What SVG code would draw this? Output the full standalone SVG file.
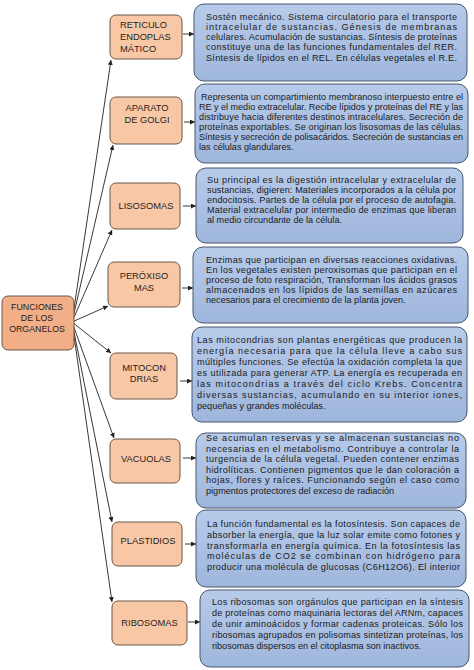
<svg xmlns="http://www.w3.org/2000/svg" width="474" height="670" viewBox="0 0 474 670">
<style>
.org rect{fill:#f8c8a6;stroke:#6b5646;stroke-width:1}
.ctr rect{fill:#f2ae86;stroke:#6b5646;stroke-width:1}
.org text,.ctr text{font-family:"Liberation Sans",Arial,sans-serif;font-size:9.3px;fill:#1e1e1e;text-anchor:middle}
.ctr text{font-size:8.8px}
.blu rect{fill:url(#bg);stroke:#46566f;stroke-width:1}
.blu text{font-family:"Liberation Sans",Arial,sans-serif;font-size:9.1px;fill:#1a1a1a}
#connectors line{stroke:#222;stroke-width:0.9;marker-end:url(#ah)}
</style>
<defs>
<linearGradient id="bg" x1="0" y1="0" x2="0" y2="1">
<stop offset="0" stop-color="#b7cbea"/>
<stop offset="1" stop-color="#9fb6dc"/>
</linearGradient>
<marker id="ah" viewBox="0 0 10 10" refX="10" refY="5" markerWidth="5" markerHeight="5" markerUnits="userSpaceOnUse" orient="auto">
<path d="M0,0 L10,5 L0,10 z" fill="#222"/>
</marker>
</defs>
<rect width="474" height="670" fill="#ffffff"/>

<g id="connectors">
<line x1="72" y1="322" x2="111" y2="60"/>
<line x1="72" y1="322" x2="113" y2="145"/>
<line x1="72" y1="322" x2="112" y2="230"/>
<line x1="72" y1="322" x2="108" y2="306"/>
<line x1="72" y1="322" x2="111" y2="353"/>
<line x1="72" y1="322" x2="114" y2="438"/>
<line x1="72" y1="322" x2="112" y2="522"/>
<line x1="72" y1="322" x2="112" y2="602"/>
<line x1="183" y1="34" x2="194" y2="34"/>
<line x1="184" y1="122" x2="195" y2="122"/>
<line x1="183" y1="206" x2="196" y2="206"/>
<line x1="182" y1="288" x2="193" y2="288"/>
<line x1="180" y1="381" x2="192" y2="381"/>
<line x1="183" y1="458" x2="196" y2="458"/>
<line x1="185" y1="544" x2="196" y2="544"/>
<line x1="188" y1="622" x2="200" y2="622"/>
</g>

<g id="funciones" class="ctr">
<rect x="2" y="296" width="72" height="54" rx="6"/>
<text x="37" y="309.5">FUNCIONES</text>
<text x="37" y="320.5">DE LOS</text>
<text x="37" y="331.5">ORGANELOS</text>
</g>

<g id="reticulo" class="org">
<rect x="110" y="15" width="72" height="44" rx="6"/>
<text x="120" y="28" style="text-anchor:start">RETICULO</text>
<text x="120" y="40" style="text-anchor:start">ENDOPLAS</text>
<text x="120" y="51.5" style="text-anchor:start">MÁTICO</text>
</g>
<g id="golgi" class="org">
<rect x="110" y="97" width="72" height="47" rx="6"/>
<text x="147" y="111">APARATO</text>
<text x="147" y="122.5">DE GOLGI</text>
</g>
<g id="lisosomas" class="org">
<rect x="110" y="183" width="70" height="46" rx="6"/>
<text x="146" y="209">LISOSOMAS</text>
</g>
<g id="peroxisomas" class="org">
<rect x="108" y="262" width="72" height="45" rx="6"/>
<text x="144" y="278.5">PERÓXISO</text>
<text x="144" y="290.5">MAS</text>
</g>
<g id="mitocondrias" class="org">
<rect x="110" y="353" width="67" height="46" rx="6"/>
<text x="144" y="370.5">MITOCON</text>
<text x="144" y="381.5">DRIAS</text>
</g>
<g id="vacuolas" class="org">
<rect x="110" y="439" width="70" height="44" rx="6"/>
<text x="146" y="461.5">VACUOLAS</text>
</g>
<g id="plastidios" class="org">
<rect x="112" y="522" width="70" height="44" rx="6"/>
<text x="148" y="543.5">PLASTIDIOS</text>
</g>
<g id="ribosomas" class="org">
<rect x="112" y="601" width="75" height="44" rx="6"/>
<text x="149.5" y="625.5">RIBOSOMAS</text>
</g>

<g id="d-reticulo" class="blu">
<rect x="194" y="4" width="273" height="77" rx="10"/>
<text x="206" y="19.8" textLength="251" lengthAdjust="spacing">Sostén mecánico. Sistema circulatorio para el transporte</text>
<text x="206" y="30" textLength="251" lengthAdjust="spacing">intracelular de sustancias. Génesis de membranas</text>
<text x="206" y="40.2" textLength="251" lengthAdjust="spacing">celulares. Acumulación de sustancias. Síntesis de proteínas</text>
<text x="206" y="50.4" textLength="251" lengthAdjust="spacing">constituye una de las funciones fundamentales del RER.</text>
<text x="206" y="60.6" textLength="251" lengthAdjust="spacing">Síntesis de lípidos en el REL. En células vegetales el R.E.</text>
</g>
<g id="d-golgi" class="blu">
<rect x="195" y="84" width="273" height="79" rx="10"/>
<text x="201" y="99.8" textLength="262" lengthAdjust="spacing">Representa un compartimiento membranoso interpuesto entre el</text>
<text x="199" y="109.9" textLength="264" lengthAdjust="spacing">RE y el medio extracelular. Recibe lípidos y proteínas del RE y las</text>
<text x="199" y="120" textLength="264" lengthAdjust="spacing">distribuye hacia diferentes destinos intracelulares. Secreción de</text>
<text x="199" y="130.1" textLength="264" lengthAdjust="spacing">proteínas exportables. Se originan los lisosomas de las células.</text>
<text x="199" y="140.2" textLength="264" lengthAdjust="spacing">Síntesis y secreción de polisacáridos. Secreción de sustancias en</text>
<text x="199" y="150.3">las células glandulares.</text>
</g>
<g id="d-lisosomas" class="blu">
<rect x="196" y="168" width="267" height="75" rx="10"/>
<text x="207" y="183" textLength="249" lengthAdjust="spacing">Su principal es la digestión intracelular y extracelular de</text>
<text x="207" y="193" textLength="249" lengthAdjust="spacing">sustancias, digieren: Materiales incorporados a la célula por</text>
<text x="207" y="203" textLength="249" lengthAdjust="spacing">endocitosis. Partes de la célula por el proceso de autofagia.</text>
<text x="207" y="213" textLength="249" lengthAdjust="spacing">Material extracelular por intermedio de enzimas que liberan</text>
<text x="207" y="223">al medio circundante de la célula.</text>
</g>
<g id="d-peroxisomas" class="blu">
<rect x="193" y="247" width="275" height="76" rx="10"/>
<text x="206" y="263" textLength="251" lengthAdjust="spacing">Enzimas que participan en diversas reacciones oxidativas.</text>
<text x="206" y="273" textLength="251" lengthAdjust="spacing">En los vegetales existen peroxisomas que participan en el</text>
<text x="206" y="283" textLength="251" lengthAdjust="spacing">proceso de foto respiración, Transforman los ácidos grasos</text>
<text x="206" y="293" textLength="251" lengthAdjust="spacing">almacenados en los lípidos de las semillas en azúcares</text>
<text x="206" y="303">necesarios para el crecimiento de la planta joven.</text>
</g>
<g id="d-mitocondrias" class="blu">
<rect x="192" y="327" width="275" height="95" rx="10"/>
<text x="197" y="343" textLength="265" lengthAdjust="spacing">Las mitocondrias son plantas energéticas que producen la</text>
<text x="197" y="354" textLength="265" lengthAdjust="spacing">energía necesaria para que la célula lleve a cabo sus</text>
<text x="197" y="365" textLength="265" lengthAdjust="spacing">múltiples funciones. Se efectúa la oxidación completa la que</text>
<text x="197" y="376" textLength="265" lengthAdjust="spacing">es utilizada para generar ATP. La energía es recuperada en</text>
<text x="197" y="387" textLength="265" lengthAdjust="spacing">las mitocondrias a través del ciclo Krebs. Concentra</text>
<text x="197" y="397.8" textLength="265" lengthAdjust="spacing">diversas sustancias, acumulando en su interior iones,</text>
<text x="197" y="408.6">pequeñas y grandes moléculas.</text>
</g>
<g id="d-vacuolas" class="blu">
<rect x="196" y="433" width="270" height="75" rx="10"/>
<text x="206" y="441.3" textLength="253" lengthAdjust="spacing">Se acumulan reservas y se almacenan sustancias no</text>
<text x="206" y="451.8" textLength="253" lengthAdjust="spacing">necesarias en el metabolismo. Contribuye a controlar la</text>
<text x="206" y="462.3" textLength="253" lengthAdjust="spacing">turgencia de la célula vegetal.  Pueden contener enzimas</text>
<text x="206" y="472.8" textLength="253" lengthAdjust="spacing">hidrolíticas. Contienen pigmentos que le dan coloración a</text>
<text x="206" y="483.3" textLength="253" lengthAdjust="spacing">hojas, flores y raíces. Funcionando según el caso como</text>
<text x="206" y="493.8">pigmentos protectores del exceso de radiación</text>
</g>
<g id="d-plastidios" class="blu">
<rect x="196" y="510" width="270" height="77" rx="10"/>
<text x="207" y="527.3" textLength="253" lengthAdjust="spacing">La función fundamental es la fotosíntesis. Son capaces de</text>
<text x="207" y="538" textLength="253" lengthAdjust="spacing">absorber la energía, que la luz solar emite como fotones y</text>
<text x="207" y="548.7" textLength="253" lengthAdjust="spacing">transformarla en energía química. En la fotosíntesis las</text>
<text x="207" y="559.4" textLength="253" lengthAdjust="spacing">moléculas de CO2 se combinan con hidrógeno para</text>
<text x="207" y="570.1" textLength="253" lengthAdjust="spacing">producir una molécula de glucosas (C6H12O6). El interior</text>
</g>
<g id="d-ribosomas" class="blu">
<rect x="200" y="590" width="269" height="77" rx="10"/>
<text x="212" y="605.3" textLength="251" lengthAdjust="spacing">Los ribosomas son orgánulos que participan en la síntesis</text>
<text x="212" y="616.2" textLength="251" lengthAdjust="spacing">de proteínas como maquinaria lectoras del ARNm, capaces</text>
<text x="212" y="627.1" textLength="251" lengthAdjust="spacing">de unir aminoácidos y formar cadenas proteicas. Sólo los</text>
<text x="212" y="638" textLength="251" lengthAdjust="spacing">ribosomas agrupados en polisomas sintetizan proteínas, los</text>
<text x="212" y="648.9">ribosomas dispersos en el citoplasma son inactivos.</text>
</g>
</svg>
